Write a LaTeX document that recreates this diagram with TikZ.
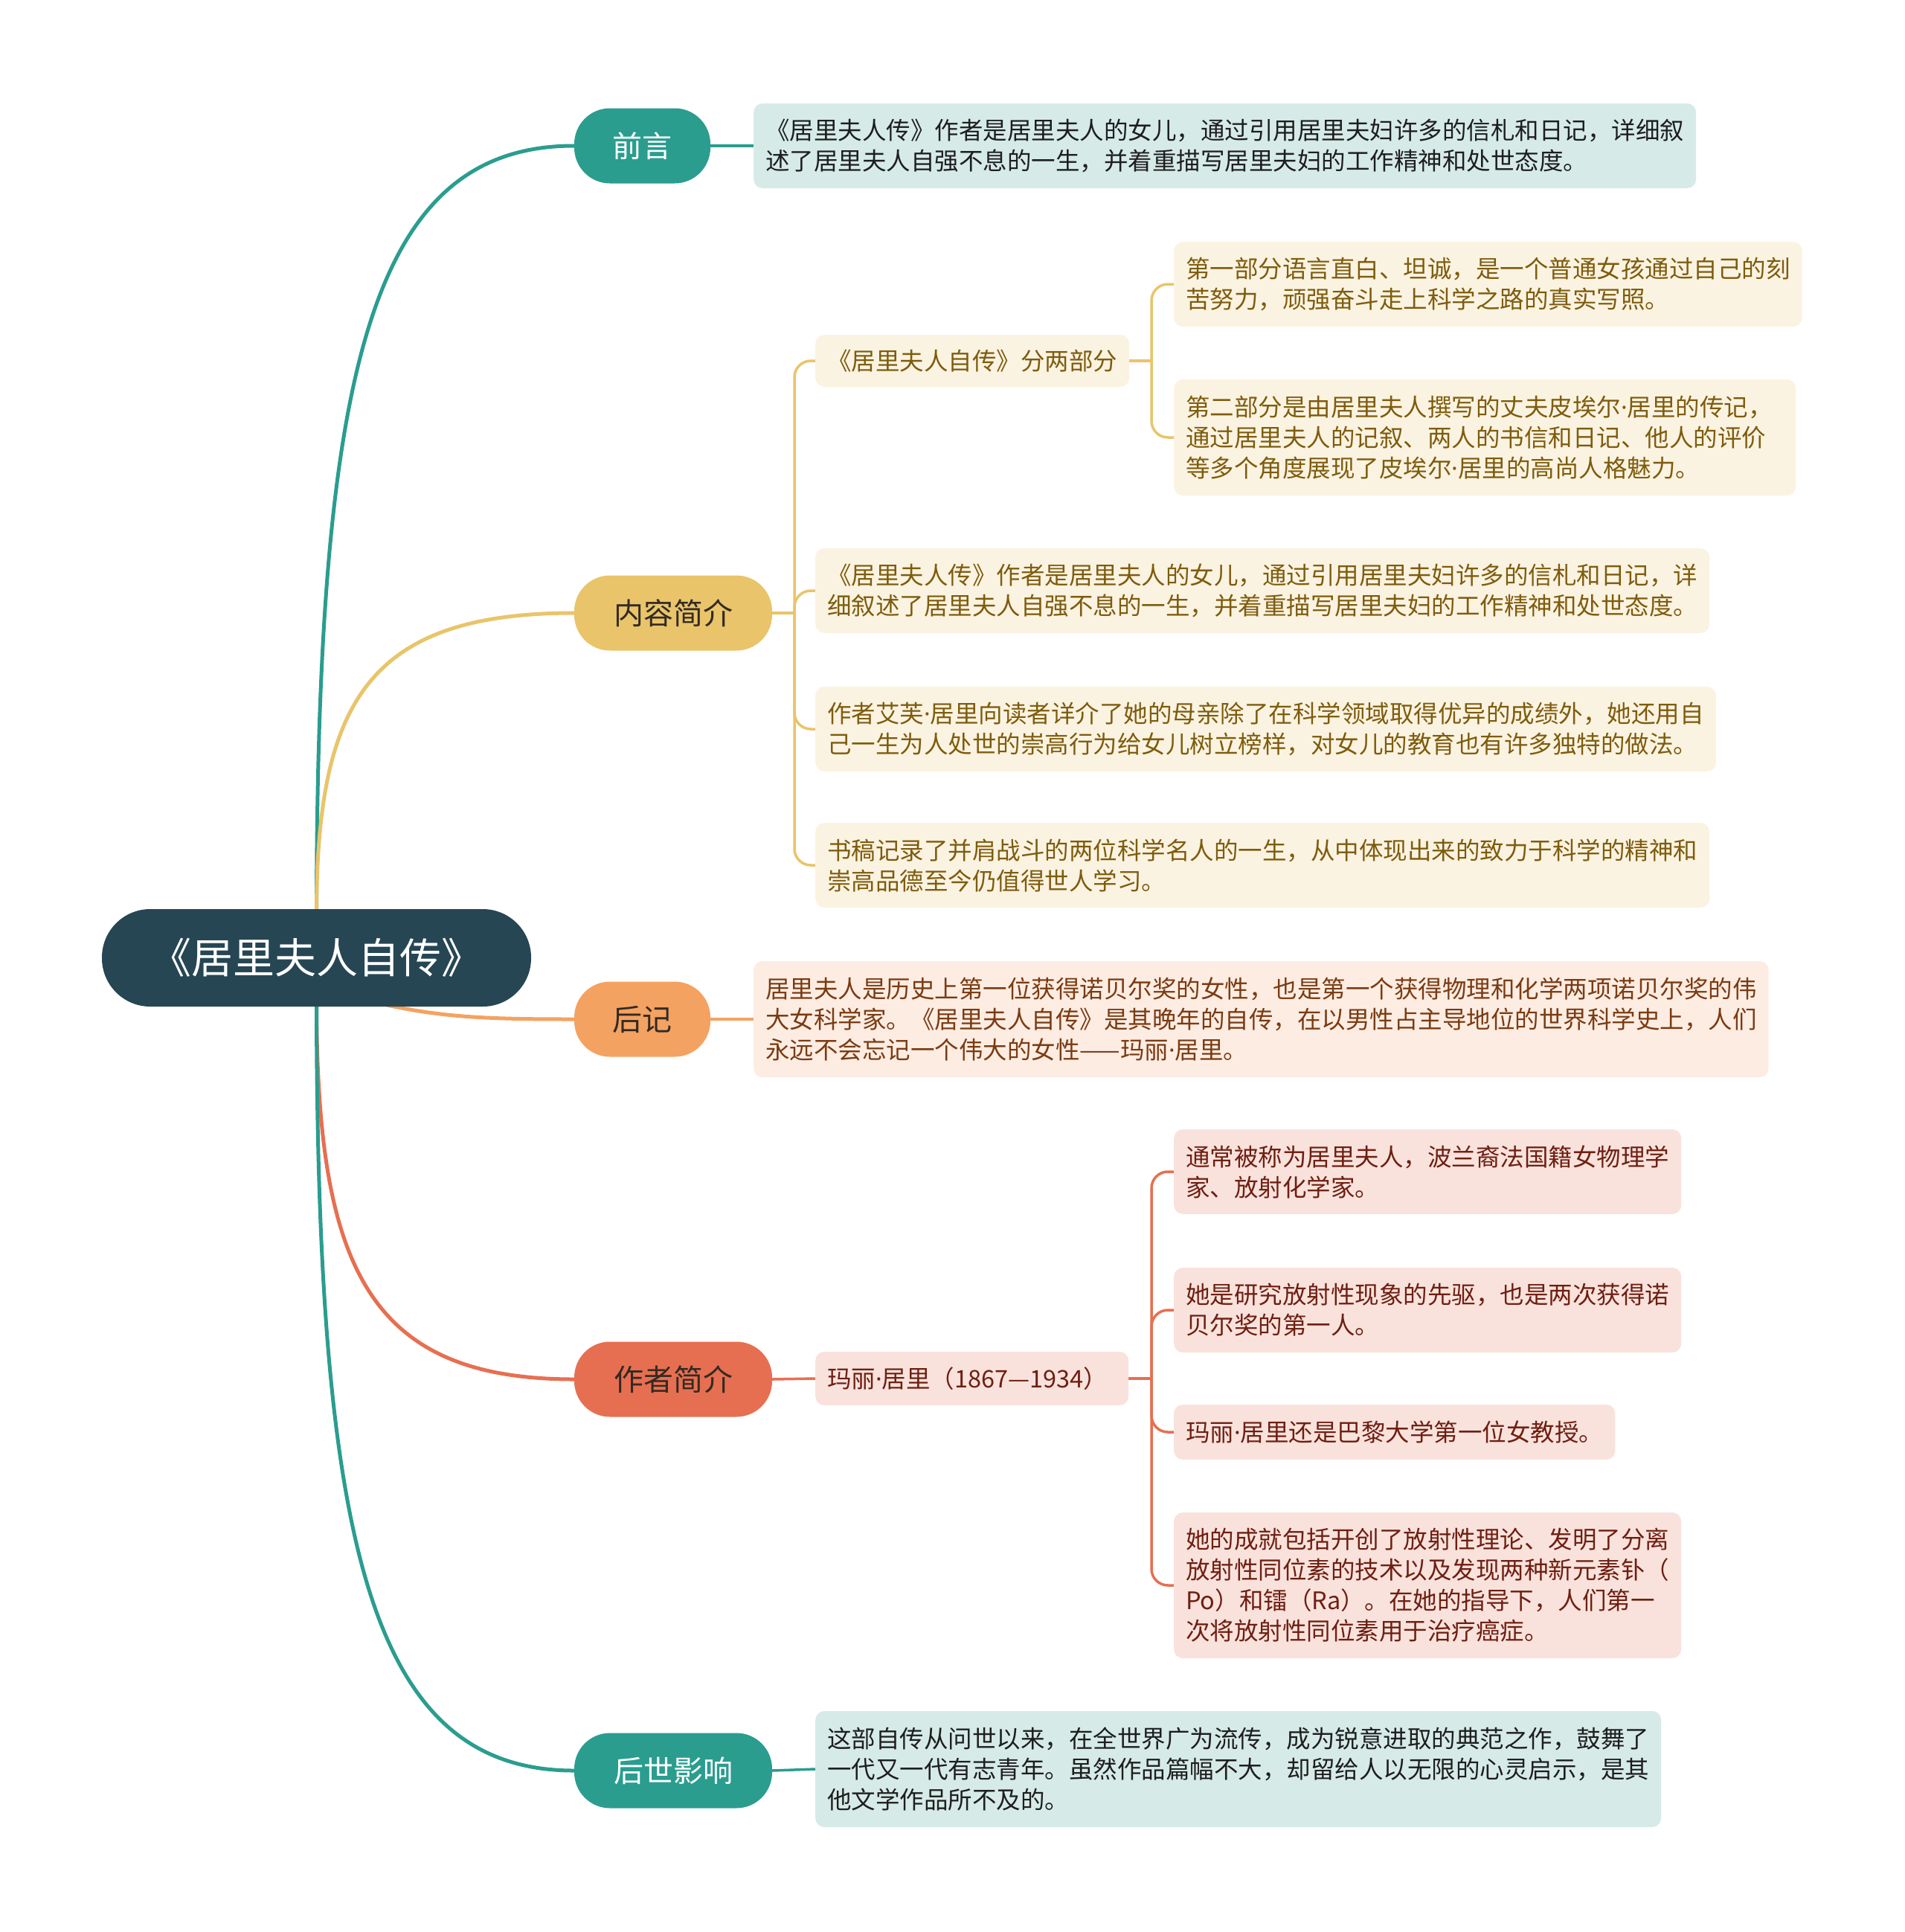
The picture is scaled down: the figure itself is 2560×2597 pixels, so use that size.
\documentclass[tikz,border=0pt]{standalone}
\usepackage{fontspec}
\setmainfont{Noto Sans CJK SC}
\newfontfamily\latinfam{Noto Sans}
\newcommand\mdot{{\latinfam ·}}
\usetikzlibrary{calc,backgrounds}
\definecolor{cRoot}{HTML}{264653}
\definecolor{cTeal}{HTML}{2A9D8F}
\definecolor{cYel}{HTML}{E9C46A}
\definecolor{cOra}{HTML}{F4A261}
\definecolor{cRed}{HTML}{E76F51}
\definecolor{bTeal}{HTML}{D6EBE8}
\definecolor{bYel}{HTML}{FBF3E1}
\definecolor{bOra}{HTML}{FDECE2}
\definecolor{bRed}{HTML}{F9E2DC}
\definecolor{tTeal}{HTML}{1E1E1E}
\definecolor{tYel}{HTML}{7E5C0E}
\definecolor{tOra}{HTML}{7A3B12}
\definecolor{tRed}{HTML}{6E1F12}
\definecolor{tDark}{HTML}{332A22}
\begin{document}
\begin{tikzpicture}[x=1pt,y=-1pt,line cap=round,
  rootbox/.style={fill=cRoot, text=white, rounded corners=65pt, minimum width=577pt, minimum height=131pt, inner sep=0pt, font=\fontsize{56pt}{64pt}\selectfont},
  topic/.style={rounded corners=48pt, minimum height=101pt, inner sep=0pt, font=\fontsize{40pt}{48pt}\selectfont},
  leaf/.style={rounded corners=12pt, inner xsep=16pt, inner ysep=0pt, align=left, anchor=west, font=\fontsize{32.5pt}{41pt}\selectfont},
  link/.style={line width=5pt},
  sub/.style={line width=3.5pt},
  elbow/.style={line width=3.5pt, rounded corners=22pt}]
\useasboundingbox (0,0) rectangle (2560,2597);

% root
\node[rootbox] (root) at (425.5,1287.5) {《居里夫人自传》};

% topics
\node[topic, fill=cTeal, text=white, minimum width=183pt] (qy) at (863.5,196) {前言};
\node[topic, fill=cYel, text=tDark, minimum width=266pt] (nr) at (905,824) {内容简介};
\node[topic, fill=cOra, text=tDark, minimum width=183pt] (hj) at (863.5,1370) {后记};
\node[topic, fill=cRed, text=tDark, minimum width=266pt] (zz) at (905,1854) {作者简介};
\node[topic, fill=cTeal, text=white, minimum width=266pt] (hs) at (905,2380) {后世影响};

% leaves
\node[leaf, fill=bTeal, text=tTeal, minimum height=114pt] (qyt) at (1013,196)
 {《居里夫人传》作者是居里夫人的女儿，通过引用居里夫妇许多的信札和日记，详细叙\\述了居里夫人自强不息的一生，并着重描写居里夫妇的工作精神和处世态度。};

\node[leaf, fill=bYel, text=tYel, minimum height=70pt] (fb) at (1096,485) {《居里夫人自传》分两部分};
\node[leaf, fill=bYel, text=tYel, minimum height=114pt] (p1) at (1578,382)
 {第一部分语言直白、坦诚，是一个普通女孩通过自己的刻\\苦努力，顽强奋斗走上科学之路的真实写照。};
\node[leaf, fill=bYel, text=tYel, minimum height=156pt, text width=804pt] (p2) at (1578,588)
 {第二部分是由居里夫人撰写的丈夫皮埃尔\mdot 居里的传记，\\通过居里夫人的记叙、两人的书信和日记、他人的评价\\等多个角度展现了皮埃尔\mdot 居里的高尚人格魅力。};
\node[leaf, fill=bYel, text=tYel, minimum height=114pt] (n2) at (1096,794)
 {《居里夫人传》作者是居里夫人的女儿，通过引用居里夫妇许多的信札和日记，详\\细叙述了居里夫人自强不息的一生，并着重描写居里夫妇的工作精神和处世态度。};
\node[leaf, fill=bYel, text=tYel, minimum height=114pt] (n3) at (1096,980)
 {作者艾芙\mdot 居里向读者详介了她的母亲除了在科学领域取得优异的成绩外，她还用自\\己一生为人处世的崇高行为给女儿树立榜样，对女儿的教育也有许多独特的做法。};
\node[leaf, fill=bYel, text=tYel, minimum height=114pt] (n4) at (1096,1163)
 {书稿记录了并肩战斗的两位科学名人的一生，从中体现出来的致力于科学的精神和\\崇高品德至今仍值得世人学习。};

\node[leaf, fill=bOra, text=tOra, minimum height=156pt] (hjt) at (1013,1370)
 {居里夫人是历史上第一位获得诺贝尔奖的女性，也是第一个获得物理和化学两项诺贝尔奖的伟\\大女科学家。《居里夫人自传》是其晚年的自传，在以男性占主导地位的世界科学史上，人们\\永远不会忘记一个伟大的女性——玛丽\mdot 居里。};

\node[leaf, fill=bRed, text=tRed, minimum height=72pt, text width=389pt] (ml) at (1096,1853) {玛丽\mdot 居里（1867—1934）};
\node[leaf, fill=bRed, text=tRed, minimum height=114pt] (m1) at (1578,1575)
 {通常被称为居里夫人，波兰裔法国籍女物理学\\家、放射化学家。};
\node[leaf, fill=bRed, text=tRed, minimum height=114pt] (m2) at (1578,1761)
 {她是研究放射性现象的先驱，也是两次获得诺\\贝尔奖的第一人。};
\node[leaf, fill=bRed, text=tRed, minimum height=74pt] (m3) at (1578,1925)
 {玛丽\mdot 居里还是巴黎大学第一位女教授。};
\node[leaf, fill=bRed, text=tRed, minimum height=196pt] (m4) at (1578,2131)
 {她的成就包括开创了放射性理论、发明了分离\\放射性同位素的技术以及发现两种新元素钋（\\Po）和镭（Ra）。在她的指导下，人们第一\\次将放射性同位素用于治疗癌症。};

\node[leaf, fill=bTeal, text=tTeal, minimum height=156pt] (hst) at (1096,2378)
 {这部自传从问世以来，在全世界广为流传，成为锐意进取的典范之作，鼓舞了\\一代又一代有志青年。虽然作品篇幅不大，却留给人以无限的心灵启示，是其\\他文学作品所不及的。};

\coordinate (hjs) at (520,1351);
\coordinate (nrj) at (1068,824);
\coordinate (fbj) at (1548,485);
\coordinate (mlj) at (1548,1853);

\begin{scope}[on background layer]
% root connectors
\draw[link, cTeal] (root.north) .. controls (427,500) and (497,196) .. (qy.west);
\draw[link, cYel] (root.north) .. controls (427,943) and (496,824) .. (nr.west);
\draw[link, cOra] (hjs) .. controls (600,1368) and (660,1370) .. (hj.west);
\draw[link, cRed] (root.south) .. controls (427,1704) and (496,1854) .. (zz.west);
\draw[link, cTeal] (root.south) .. controls (427,2072) and (496,2380) .. (hs.west);

% topic to leaf connectors
\draw[sub, cTeal] (qy.east) -- (qyt.west);
\draw[sub, cOra] (hj.east) -- (hjt.west);
\draw[sub, cTeal] (hs.east) -- (hst.west);
\draw[sub, cRed] (zz.east) -- (ml.west);

\draw[sub, cYel] (nr.east) -- (nrj);
\foreach \c in {fb,n2,n3,n4} \draw[elbow, cYel] (nrj) |- (\c.west);

\draw[sub, cYel] (fb.east) -- (fbj);
\foreach \c in {p1,p2} \draw[elbow, cYel] (fbj) |- (\c.west);

\draw[sub, cRed] (ml.east) -- (mlj);
\foreach \c in {m1,m2,m3,m4} \draw[elbow, cRed] (mlj) |- (\c.west);
\end{scope}
\end{tikzpicture}
\end{document}
